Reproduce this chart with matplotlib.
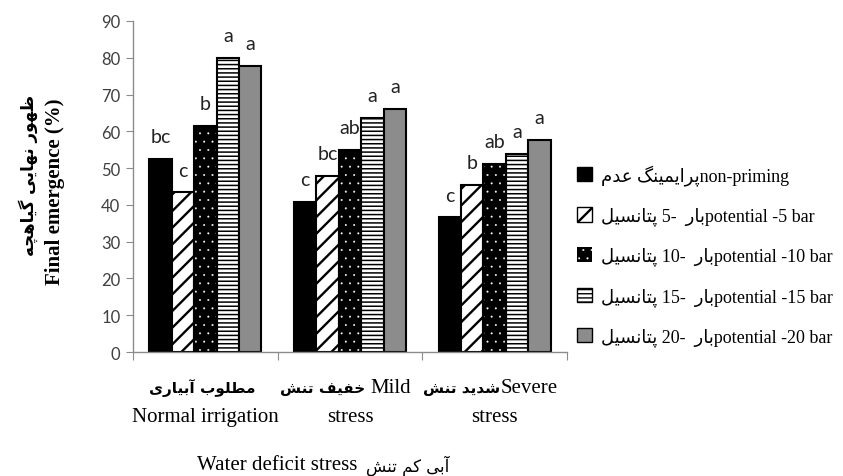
import matplotlib
matplotlib.use('Agg')
import matplotlib.pyplot as plt
from matplotlib.patches import Patch
import numpy as np

# ---------------- data ----------------
categories_fa = ['آبیاری مطلوب', 'تنش خفیف', 'تنش شدید']
categories_en1 = ['', 'Mild', 'Severe']
categories_en2 = ['Normal irrigation', 'stress', 'stress']
series_en = ['non-priming', 'potential -5 bar', 'potential -10 bar',
             'potential -15 bar', 'potential -20 bar']
series_num = ['', '5', '10', '15', '20']
non_priming = [52.5, 40.9, 36.6]
pot_5 = [43.4, 47.8, 45.4]
pot_10 = [61.4, 54.9, 51.1]
pot_15 = [79.9, 63.6, 53.9]
pot_20 = [77.8, 66.2, 57.7]
letters_np = ['bc', 'c', 'c']
letters_5 = ['c', 'bc', 'b']
letters_10 = ['b', 'ab', 'ab']
letters_15 = ['a', 'a', 'a']
letters_20 = ['a', 'a', 'a']
yticks = list(range(0, 91, 10))

values = [non_priming, pot_5, pot_10, pot_15, pot_20]
letters = [letters_np, letters_5, letters_10, letters_15, letters_20]

# ---------------- Persian shaping helper ----------------
FORMS = {
    'آ': ('\uFE81', '\uFE82', None, None),
    'ا': ('\uFE8D', '\uFE8E', None, None),
    'ب': ('\uFE8F', '\uFE90', '\uFE91', '\uFE92'),
    'پ': ('\uFB56', '\uFB57', '\uFB58', '\uFB59'),
    'ت': ('\uFE95', '\uFE96', '\uFE97', '\uFE98'),
    'چ': ('\uFB7A', '\uFB7B', '\uFB7C', '\uFB7D'),
    'خ': ('\uFEA5', '\uFEA6', '\uFEA7', '\uFEA8'),
    'د': ('\uFEA9', '\uFEAA', None, None),
    'ر': ('\uFEAD', '\uFEAE', None, None),
    'س': ('\uFEB1', '\uFEB2', '\uFEB3', '\uFEB4'),
    'ش': ('\uFEB5', '\uFEB6', '\uFEB7', '\uFEB8'),
    'ط': ('\uFEC1', '\uFEC2', '\uFEC3', '\uFEC4'),
    'ظ': ('\uFEC5', '\uFEC6', '\uFEC7', '\uFEC8'),
    'ع': ('\uFEC9', '\uFECA', '\uFECB', '\uFECC'),
    'ف': ('\uFED1', '\uFED2', '\uFED3', '\uFED4'),
    'ک': ('\uFB8E', '\uFB8F', '\uFB90', '\uFB91'),
    'گ': ('\uFB92', '\uFB93', '\uFB94', '\uFB95'),
    'ل': ('\uFEDD', '\uFEDE', '\uFEDF', '\uFEE0'),
    'م': ('\uFEE1', '\uFEE2', '\uFEE3', '\uFEE4'),
    'ن': ('\uFEE5', '\uFEE6', '\uFEE7', '\uFEE8'),
    'ه': ('\uFEE9', '\uFEEA', '\uFEEB', '\uFEEC'),
    'و': ('\uFEED', '\uFEEE', None, None),
    'ی': ('\uFBFC', '\uFBFD', '\uFBFE', '\uFBFF'),
}


def shape_word(word):
    out = []
    n = len(word)
    for i, ch in enumerate(word):
        if ch not in FORMS:
            out.append(ch)
            continue
        prev_j = i > 0 and word[i - 1] in FORMS and FORMS[word[i - 1]][2] is not None
        next_j = FORMS[ch][2] is not None and i + 1 < n and word[i + 1] in FORMS
        if prev_j and next_j:
            out.append(FORMS[ch][3])
        elif prev_j:
            out.append(FORMS[ch][1])
        elif next_j:
            out.append(FORMS[ch][2])
        else:
            out.append(FORMS[ch][0])
    return ''.join(out[::-1])


def fa(text, rtl_words=False):
    words = [shape_word(w) for w in text.split(' ')]
    if rtl_words:
        words = words[::-1]
    return ' '.join(words)


def hatch_lw_at_draw(artist, lw):
    orig = artist.draw

    def draw(renderer, _orig=orig, _lw=lw):
        with plt.rc_context({'hatch.linewidth': _lw}):
            _orig(renderer)
    artist.draw = draw
    try:
        artist.set_hatch_linewidth(lw)
    except AttributeError:
        pass


# ---------------- figure ----------------
SERIF = ['Liberation Serif', 'DejaVu Sans']
plt.rcParams['hatch.linewidth'] = 1.7

fig = plt.figure(figsize=(8.43, 4.77), dpi=100)
W, H = 843, 477
ax = fig.add_axes([133 / W, 1 - 353 / H, (567 - 133) / W, 331 / H])

x = np.arange(len(categories_en2))
bw = 0.155

styles = [
    dict(facecolor='black', hatch=None, hlw=1.7),
    dict(facecolor='white', hatch='//', hlw=1.7),
    dict(facecolor='black', hatch='..', hlw=0.2),
    dict(facecolor='white', hatch='----', hlw=1.1),
    dict(facecolor='#8c8c8c', hatch=None, hlw=1.7),
]

for i, vals in enumerate(values):
    pos = x + (i - 2) * bw
    st = styles[i]
    if i == 2:
        bars = ax.bar(pos, vals, width=bw, facecolor='black', edgecolor='white',
                      hatch=st['hatch'], linewidth=0, zorder=2)
        ax.bar(pos, vals, width=bw, facecolor='none', edgecolor='black',
               linewidth=1.5, zorder=3)
    else:
        bars = ax.bar(pos, vals, width=bw, facecolor=st['facecolor'],
                      edgecolor='black', hatch=st['hatch'], linewidth=1.5,
                      zorder=2)
    for b in bars:
        hatch_lw_at_draw(b, st['hlw'])
    for p, v, lab in zip(pos, vals, letters[i]):
        ax.annotate(lab, (p, v), xytext=(0, 16), textcoords='offset points',
                    ha='center', va='center', fontsize=14, family='Lato',
                    color='#222222')

ax.set_xlim(-0.5, 2.5)
ax.set_ylim(0, 90)
for s in ['top', 'right']:
    ax.spines[s].set_visible(False)
for s in ['left', 'bottom']:
    ax.spines[s].set_color('#8c8c8c')
    ax.spines[s].set_linewidth(1.0)
ax.set_yticks(yticks)
ax.set_yticklabels([str(t) for t in yticks], family='Lato', fontsize=12,
                   color='#404040')
ax.tick_params(axis='y', length=5, color='#8c8c8c', pad=4)
ax.set_xticks([-0.5, 0.5, 1.5, 2.5])
ax.set_xticklabels([])
ax.tick_params(axis='x', length=6, color='#8c8c8c')

tr = ax.get_xaxis_transform()
# category labels
ax.text(-0.024, -0.106, fa(categories_fa[0]), transform=tr, ha='center',
        va='center', fontsize=11, family='DejaVu Sans', weight='bold')
ax.text(1.141, -0.106, fa(categories_fa[1]) + ' ', transform=tr, ha='right',
        va='center', fontsize=11, family='DejaVu Sans', weight='bold')
ax.text(1.141, -0.106, categories_en1[1], transform=tr, ha='left',
        va='center', fontsize=15, family=SERIF)
ax.text(2.038, -0.106, fa(categories_fa[2]), transform=tr, ha='right',
        va='center', fontsize=11, family='DejaVu Sans', weight='bold')
ax.text(2.038, -0.106, categories_en1[2], transform=tr, ha='left',
        va='center', fontsize=15, family=SERIF)
for xi, lab in zip(x, categories_en2):
    ax.text(xi, -0.196, lab, transform=tr, ha='center', va='center',
            fontsize=15, family=SERIF)

# x label
fig.text(197 / W, 1 - 466 / H, 'Water deficit stress', ha='left', va='center',
         fontsize=15, family=SERIF)
fig.text(366 / W, 1 - 466 / H, fa('تنش کم آبی'), ha='left', va='center',
         fontsize=12, family='DejaVu Sans')

# y label
fig.text(55 / W, 1 - 192 / H, 'Final emergence (%)', rotation=90, ha='center',
         va='center', fontsize=15, family=SERIF, weight='bold')
fig.text(28 / W, 1 - 175 / H, fa('ظهور نهایی گیاهچه', rtl_words=True),
         rotation=90, ha='center', va='center', fontsize=12,
         family='DejaVu Sans', weight='bold')

# legend
handles = [
    Patch(facecolor='black', edgecolor='black', linewidth=1.0),
    Patch(facecolor='white', edgecolor='black', hatch='//', linewidth=1.0),
    Patch(facecolor='black', edgecolor='white', hatch='..', linewidth=0),
    Patch(facecolor='white', edgecolor='black', hatch='----', linewidth=1.0),
    Patch(facecolor='#8c8c8c', edgecolor='black', linewidth=1.0),
]
labels = [fa('عدم پرایمینگ') + series_en[0]]
for num, en in zip(series_num[1:], series_en[1:]):
    labels.append(fa('پتانسیل') + ' ' + num + '-  ' + fa('بار') + en)

leg = fig.legend(handles, labels, loc='center left',
                 bbox_to_anchor=(577 / W, 1 - 256 / H), frameon=False,
                 prop={'family': SERIF, 'size': 13}, handlelength=0.85,
                 handleheight=0.85, handletextpad=0.5, labelspacing=1.2,
                 borderpad=0, borderaxespad=0)
lp = leg.get_patches()
hatch_lw_at_draw(lp[2], 0.2)
hatch_lw_at_draw(lp[3], 1.0)

fig.savefig('out.png', dpi=100)
